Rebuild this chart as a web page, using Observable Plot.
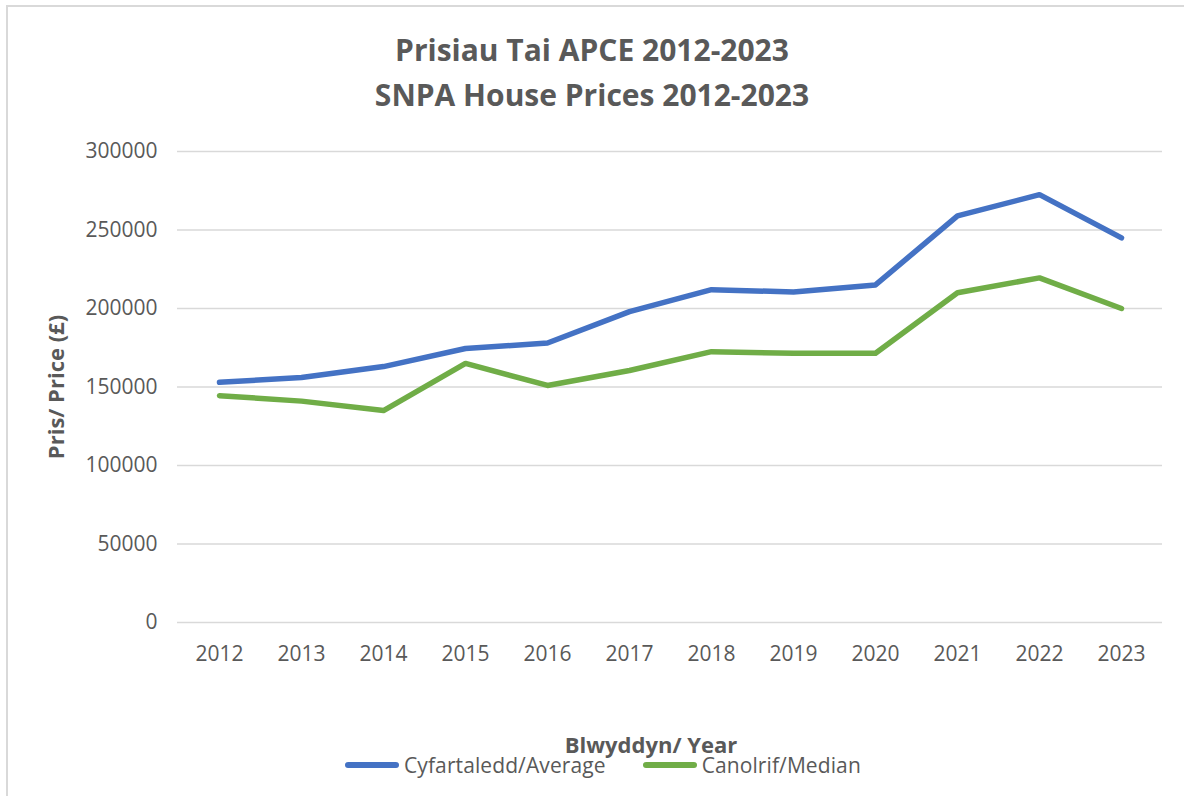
<!DOCTYPE html>
<html>
<head>
<meta charset="utf-8">
<script src="https://cdn.jsdelivr.net/npm/d3@7"></script>
<script src="https://cdn.jsdelivr.net/npm/@observablehq/plot@0.6"></script>
<style>
  html, body { margin: 0; padding: 0; background: #fff; }
  body { width: 1184px; height: 796px; position: relative; overflow: hidden; font-family: "Open Sans", sans-serif; color: #595959; }
  #frame { position: absolute; left: 6px; top: 5px; width: 1200px; height: 820px; border-top: 2px solid #d9d9d9; border-left: 2px solid #d9d9d9; }
  #title { position: absolute; left: 0; width: 1184px; top: 27px; text-align: center; font-weight: bold; font-size: 30px; line-height: 45px; color: #595959; }
  #title div { width: 1184px; text-align: center; }
  #chart { position: absolute; left: 0; top: 120px; }
  #xtitle { position: absolute; top: 729px; left: 0; width: 1184px; text-align: center; padding-left: 118px; box-sizing: border-box; font-weight: bold; font-size: 22px; font-family: "Open Sans", sans-serif; color: #595959; letter-spacing: 0px; }
  #legend { position: absolute; top: 751px; left: 345px; font-family: "Open Sans", sans-serif; font-size: 21px; color: #595959; display: flex; align-items: center; white-space: nowrap; letter-spacing: 0.1px; }
  .sw { display: inline-block; width: 54px; height: 6px; border-radius: 3px; margin-right: 5px; }
  .item { display: flex; align-items: center; margin-right: 37px; }
  #chart svg g[aria-label="y-axis label"] text { font-weight: bold; font-size: 22px; }
</style>
</head>
<body>
<div id="frame"></div>
<div id="title"><div>Prisiau Tai APCE 2012-2023</div><div>SNPA House Prices 2012-2023</div></div>
<div id="chart"></div>
<div id="xtitle">Blwyddyn/ Year</div>
<div id="legend"></div>
<script>
const years = ["2012","2013","2014","2015","2016","2017","2018","2019","2020","2021","2022","2023"];
const averagePrices = [153000, 156000, 163000, 174500, 178000, 198000, 212000, 210500, 215000, 259000, 272500, 245000];
const medianPrices  = [144500, 141000, 135000, 165000, 151000, 160500, 172500, 171500, 171500, 210000, 219500, 200000];
const seriesNames = ["Cyfartaledd/Average", "Canolrif/Median"];
const seriesColors = ["#4472C4", "#70AD47"];
const yTicks = [0, 50000, 100000, 150000, 200000, 250000, 300000];

const rows = [];
years.forEach((y, i) => {
  rows.push({year: y, value: averagePrices[i], series: seriesNames[0]});
  rows.push({year: y, value: medianPrices[i], series: seriesNames[1]});
});

const chart = Plot.plot({
  width: 1184,
  height: 560,
  marginLeft: 177,
  marginRight: 22,
  marginTop: 31,
  marginBottom: 58,
  style: { fontFamily: "Open Sans, sans-serif", fontSize: "21px", color: "#595959", background: "transparent" },
  x: { type: "point", domain: years, padding: 0.5, label: null, tickSize: 0, tickPadding: 24 },
  y: { domain: [0, 300000], ticks: yTicks, tickFormat: d => String(d), tickSize: 0, tickPadding: 20,
       label: "Pris/ Price (£)", labelAnchor: "center", labelArrow: "none", labelOffset: 129 },
  color: { domain: seriesNames, range: seriesColors },
  marks: [
    Plot.ruleY(yTicks, { stroke: "#d9d9d9", strokeWidth: 1.5, strokeOpacity: 1 }),
    Plot.line(rows, { x: "year", y: "value", z: "series", stroke: "series", strokeWidth: 5.5, strokeLinecap: "round", strokeLinejoin: "round" })
  ]
});
document.getElementById("chart").appendChild(chart);

const legend = document.getElementById("legend");
seriesNames.forEach((name, i) => {
  const item = document.createElement("div");
  item.className = "item";
  const sw = document.createElement("span");
  sw.className = "sw";
  sw.style.background = seriesColors[i];
  const label = document.createElement("span");
  label.textContent = name;
  item.appendChild(sw);
  item.appendChild(label);
  legend.appendChild(item);
});
</script>
</body>
</html>
